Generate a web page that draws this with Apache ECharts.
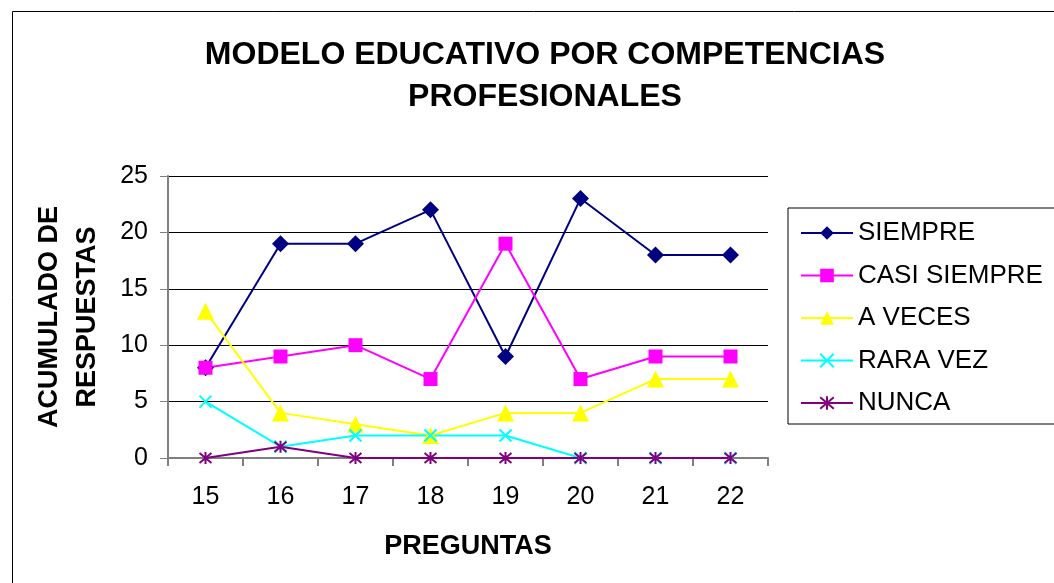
<!DOCTYPE html>
<html>
<head>
<meta charset="utf-8">
<script src="https://cdn.jsdelivr.net/npm/echarts@6/dist/echarts.min.js"></script>
<style>
  html, body { margin: 0; padding: 0; background: #fff; }
  #chart { width: 1054px; height: 583px; }
</style>
</head>
<body>
<div id="chart"></div>
<script>
// preguntas (eje x)
const preguntas = ['15', '16', '17', '18', '19', '20', '21', '22'];

// respuestas acumuladas por serie
const siempre = [8, 19, 19, 22, 9, 23, 18, 18];
const casiSiempre = [8, 9, 10, 7, 19, 7, 9, 9];
const aVeces = [13, 4, 3, 2, 4, 4, 7, 7];
const raraVez = [5, 1, 2, 2, 2, 0, 0, 0];
const nunca = [0, 1, 0, 0, 0, 0, 0, 0];

const yTicks = [0, 5, 10, 15, 20, 25];

const FONT = '"Liberation Sans", Arial, sans-serif';

const crossPath = 'path://M0,0L10,10M10,0L0,10';
const starPath = 'path://M0,0L10,10M10,0L0,10M5,-1L5,11';

function mkSeries(name, data, color, symbol, size, stroke) {
    return {
        name: name,
        type: 'line',
        data: data,
        symbol: symbol,
        symbolSize: size,
        lineStyle: { color: color, width: 2 },
        itemStyle: stroke
            ? { color: 'transparent', borderColor: color, borderWidth: 2 }
            : { color: color, borderColor: color, borderWidth: 0 },
        emphasis: { disabled: true },
        animation: false
    };
}

const chart = echarts.init(document.getElementById('chart'));

chart.setOption({
    backgroundColor: '#fff',
    textStyle: { fontFamily: FONT },
    title: {
        text: 'MODELO EDUCATIVO POR COMPETENCIAS\nPROFESIONALES',
        left: 540,
        top: 29,
        textAlign: 'center',
        textStyle: {
            fontFamily: FONT,
            fontSize: 32,
            fontWeight: 'bold',
            color: '#000',
            lineHeight: 42
        }
    },
    graphic: [{
        type: 'rect',
        shape: { x: 12.5, y: 11.5, width: 1100, height: 620 },
        style: { fill: 'none', stroke: '#000', lineWidth: 1 },
        silent: true,
        z: -1
    }],
    legend: {
        orient: 'vertical',
        left: 788,
        top: 208,
        width: 300,
        padding: [12, 60, 8, 12],
        borderColor: '#000',
        borderWidth: 1,
        itemWidth: 52,
        itemHeight: 17,
        itemGap: 16.5,
        textStyle: { fontFamily: FONT, fontSize: 26, color: '#000', padding: [0, 0, 0, 0] },
        data: ['SIEMPRE', 'CASI SIEMPRE', 'A VECES', 'RARA VEZ', 'NUNCA']
    },
    grid: { left: 168, right: 286, top: 176, bottom: 125 },
    xAxis: {
        type: 'category',
        data: preguntas,
        boundaryGap: true,
        name: 'PREGUNTAS',
        nameLocation: 'middle',
        nameGap: 75,
        nameTextStyle: { fontFamily: FONT, fontSize: 27, fontWeight: 'bold', color: '#000' },
        axisLine: { lineStyle: { color: '#808080', width: 2 } },
        axisTick: { show: true, length: 8, lineStyle: { color: '#808080', width: 2 } },
        axisLabel: { fontFamily: FONT, fontSize: 25, color: '#000', margin: 27 },
        splitLine: { show: false }
    },
    yAxis: {
        type: 'value',
        min: 0,
        max: 25,
        interval: 5,
        name: 'ACUMULADO DE\nRESPUESTAS',
        nameLocation: 'middle',
        nameRotate: 90,
        nameGap: 61,
        nameTextStyle: { fontFamily: FONT, fontSize: 27, fontWeight: 'bold', color: '#000', lineHeight: 38 },
        axisLine: { show: true, lineStyle: { color: '#808080', width: 2 } },
        axisTick: { show: true, length: 8, lineStyle: { color: '#808080', width: 1 } },
        axisLabel: {
            fontFamily: FONT, fontSize: 25, color: '#000', margin: 20,
            formatter: function (v) { return yTicks.indexOf(v) >= 0 ? String(v) : ''; }
        },
        splitLine: { show: true, lineStyle: { color: '#000', width: 1 } }
    },
    series: [
        mkSeries('SIEMPRE', siempre, '#000080', 'diamond', 17, false),
        mkSeries('CASI SIEMPRE', casiSiempre, '#FF00FF', 'rect', 14, false),
        mkSeries('A VECES', aVeces, '#FFFF00', 'triangle', 17, false),
        mkSeries('RARA VEZ', raraVez, '#00FFFF', crossPath, 12, true),
        mkSeries('NUNCA', nunca, '#800080', starPath, 12, true)
    ]
});
</script>
</body>
</html>
